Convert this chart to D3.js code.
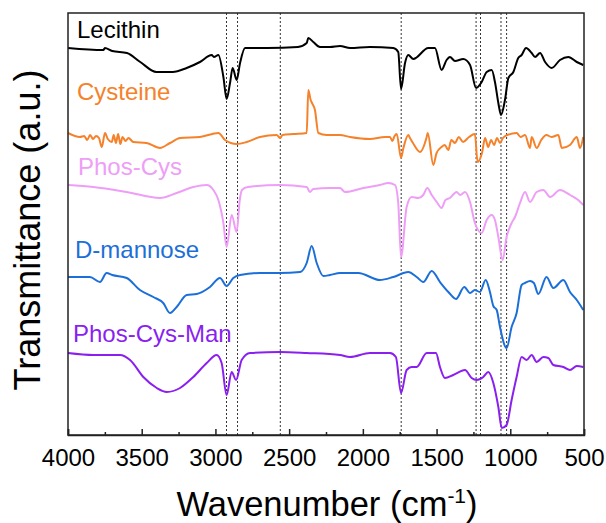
<!DOCTYPE html>
<html><head><meta charset="utf-8">
<script src="https://cdn.jsdelivr.net/npm/d3@7"></script>
<style>html,body{margin:0;padding:0;background:#fff;}svg{display:block;font-family:"Liberation Sans",Arial,sans-serif;}</style>
</head><body>
<svg id="chart" width="606" height="523"></svg>
<script>
// ---- data (wavenumber cm-1, transmittance a.u., stacked) ----
const seriesNames = ["Lecithin", "Cysteine", "Phos-Cys", "D-mannose", "Phos-Cys-Man"];
const seriesColors = ["#000000", "#f5822a", "#ee9ef7", "#1c6fd8", "#8a1ff0"];
const lecithin = [[4000,387],[3760,385],[3750,387],[3700,384],[3600,382],[3510,373],[3400,363],[3290,363],[3195,367],[3105,373],[3025,380],[3010,378],[2980,380],[2946,358],[2924,336],[2901,352],[2883,367],[2856,355],[2833,372],[2799,387],[2650,387],[2440,388],[2381,392],[2370,397],[2336,393],[2291,388],[2223,388],[2155,389],[2087,387],[1952,388],[1793,387],[1760,383],[1741,346],[1714,372],[1692,380],[1658,376],[1556,387],[1511,387],[1466,365],[1432,375],[1409,378],[1375,374],[1319,376],[1273,370],[1232,347],[1194,353],[1160,363],[1126,365],[1104,353],[1081,332],[1063,320],[1036,335],[1013,357],[979,363],[946,377],[923,380],[893,387],[855,382],[832,378],[798,382],[764,373],[719,367],[663,375],[606,378],[549,373],[505,370]];
const cysteine = [[4000,302],[3919,298],[3890,299],[3870,295],[3850,300],[3830,296],[3810,299],[3790,297],[3771,288],[3749,302],[3730,296],[3703,293],[3690,300],[3675,292],[3660,301],[3645,291],[3630,298],[3610,294],[3590,297],[3557,293],[3467,292],[3376,287],[3308,292],[3240,297],[3105,298],[2980,302],[2935,295],[2856,291],[2788,293],[2698,298],[2585,300],[2560,297],[2545,300],[2472,301],[2381,302],[2370,345],[2354,335],[2345,332],[2325,325],[2302,302],[2245,300],[2155,300],[2087,298],[1952,296],[1850,298],[1816,298],[1800,294],[1785,299],[1770,301],[1741,277],[1725,287],[1692,300],[1680,297],[1660,292],[1612,283],[1567,298],[1560,302],[1522,270],[1500,282],[1466,288],[1445,290],[1420,285],[1400,295],[1375,292],[1350,298],[1320,293],[1280,298],[1240,301],[1222,273],[1192,282],[1171,297],[1150,288],[1130,295],[1110,290],[1090,297],[1070,292],[1050,297],[1020,300],[957,302],[930,298],[900,300],[866,287],[855,298],[821,287],[790,295],[755,300],[720,298],[674,300],[651,287],[595,290],[549,298],[527,287],[505,298]];
const phosCys = [[4000,250],[3828,248],[3602,243],[3376,237],[3263,242],[3150,248],[3059,250],[3014,245],[2980,235],[2946,212],[2924,188],[2890,220],[2856,203],[2835,235],[2820,245],[2780,248],[2562,250],[2381,248],[2359,243],[2336,246],[2223,247],[2155,247],[2121,243],[1997,247],[1884,250],[1827,252],[1782,250],[1760,232],[1741,178],[1703,228],[1669,238],[1624,237],[1590,240],[1563,247],[1533,240],[1499,233],[1466,227],[1440,235],[1410,237],[1364,243],[1340,240],[1307,243],[1273,233],[1240,212],[1194,202],[1160,215],[1126,220],[1104,215],[1081,198],[1052,175],[1025,198],[991,212],[968,218],[934,232],[900,243],[866,233],[821,243],[776,245],[730,238],[663,245],[595,240],[539,235],[505,230]];
const dMannose = [[4000,158],[3851,158],[3783,153],[3738,162],[3700,160],[3602,157],[3512,145],[3421,138],[3354,132],[3308,122],[3263,128],[3195,140],[3127,141],[3037,148],[2969,157],[2924,149],[2879,157],[2833,160],[2698,162],[2562,162],[2426,163],[2381,172],[2347,189],[2313,172],[2268,159],[2223,160],[2155,162],[2031,162],[1884,155],[1793,158],[1692,163],[1635,158],[1590,153],[1533,164],[1477,153],[1420,143],[1368,136],[1312,148],[1273,142],[1240,145],[1206,143],[1167,155],[1138,143],[1115,129],[1092,125],[1070,108],[1025,87],[991,108],[957,122],[923,150],[900,152],[866,154],[840,152],[810,141],[754,158],[708,147],[640,155],[595,143],[549,135],[505,125]];
const phosCysMan = [[4000,82],[3828,80],[3647,80],[3579,75],[3489,58],[3398,47],[3330,43],[3240,47],[3150,58],[3059,72],[2992,80],[2958,72],[2924,40],[2890,63],[2860,55],[2822,75],[2765,82],[2562,83],[2381,82],[2155,80],[2087,78],[1952,82],[1816,82],[1776,78],[1741,42],[1703,65],[1669,68],[1635,68],[1567,82],[1504,82],[1477,68],[1443,57],[1387,60],[1307,65],[1262,57],[1228,55],[1183,58],[1149,63],[1115,52],[1081,28],[1058,7],[1025,10],[991,35],[957,58],[923,78],[889,75],[855,80],[821,73],[776,78],[742,77],[708,70],[640,68],[595,65],[549,69],[505,68]];
const seriesData = [lecithin, cysteine, phosCys, dMannose, phosCysMan];
const markerLines = [2925, 2850, 2560, 1740, 1232, 1202, 1063, 1025];
const xTicks = [4000, 3500, 3000, 2500, 2000, 1500, 1000, 500];
const xMinorTicks = [3750, 3250, 2750, 2250, 1750, 1250, 750];
const xDomain = [4000, 500];
const yDomain = [0, 422];

// ---- layout ----
const svg = d3.select("#chart");
const m = {left: 68, right: 584, top: 13, bottom: 435};
const x = d3.scaleLinear().domain(xDomain).range([m.left, m.right]);
const y = d3.scaleLinear().domain(yDomain).range([m.bottom, m.top]);

svg.append("rect").attr("width", 606).attr("height", 523).attr("fill", "#fff");

// dashed markers
svg.append("g").selectAll("line").data(markerLines).join("line")
  .attr("x1", d => x(d)).attr("x2", d => x(d))
  .attr("y1", m.top).attr("y2", m.bottom)
  .attr("stroke", "#333").attr("stroke-width", 1).attr("stroke-dasharray", "2,2");

// spectra
const line = d3.line().x(d => x(d[0])).y(d => y(d[1])).curve(d3.curveMonotoneX);
svg.append("g").selectAll("path").data(seriesData).join("path")
  .attr("d", line).attr("fill", "none")
  .attr("stroke", (d, i) => seriesColors[i]).attr("stroke-width", 2)
  .attr("stroke-linejoin", "round");

// series labels
const labelPos = [[77, 38], [77, 100], [78, 175], [75, 258], [73, 342]];
svg.append("g").selectAll("text").data(seriesNames).join("text")
  .attr("x", (d, i) => labelPos[i][0]).attr("y", (d, i) => labelPos[i][1])
  .attr("fill", (d, i) => seriesColors[i])
  .attr("font-size", 24).text(d => d);

// frame
svg.append("rect").attr("x", m.left).attr("y", m.top)
  .attr("width", m.right - m.left).attr("height", m.bottom - m.top)
  .attr("fill", "none").attr("stroke", "#222").attr("stroke-width", 1.5);

// x axis
const xAxis = d3.axisBottom(x).tickValues(xTicks).tickSize(-6).tickPadding(14).tickFormat(d3.format("d"));
const gx = svg.append("g").attr("transform", `translate(0,${m.bottom})`).call(xAxis);
gx.select(".domain").attr("stroke", "#222").attr("stroke-width", 1.5);
gx.selectAll(".tick line").attr("stroke", "#222").attr("stroke-width", 1.5);
gx.selectAll(".tick text").attr("font-size", 24).attr("fill", "#000")
  .attr("font-family", '"Liberation Sans",Arial,sans-serif');
const xAxisMinor = d3.axisBottom(x).tickValues(xMinorTicks).tickSize(-3).tickFormat("");
const gxm = svg.append("g").attr("transform", `translate(0,${m.bottom})`).call(xAxisMinor);
gxm.select(".domain").remove();
gxm.selectAll(".tick line").attr("stroke", "#222").attr("stroke-width", 1.5);

// axis titles
const xt = svg.append("text").attr("x", (m.left + m.right) / 2 + 1).attr("y", 516)
  .attr("text-anchor", "middle").attr("font-size", 34.5).attr("fill", "#000");
xt.append("tspan").text("Wavenumber (cm");
xt.append("tspan").attr("dy", -13).attr("font-size", 21).text("-1");
xt.append("tspan").attr("dy", 13).text(")");

svg.append("text").attr("transform", "translate(40,230) rotate(-90)")
  .attr("text-anchor", "middle").attr("font-size", 36).attr("fill", "#000")
  .text("Transmittance (a.u.)");
</script>
</body></html>
